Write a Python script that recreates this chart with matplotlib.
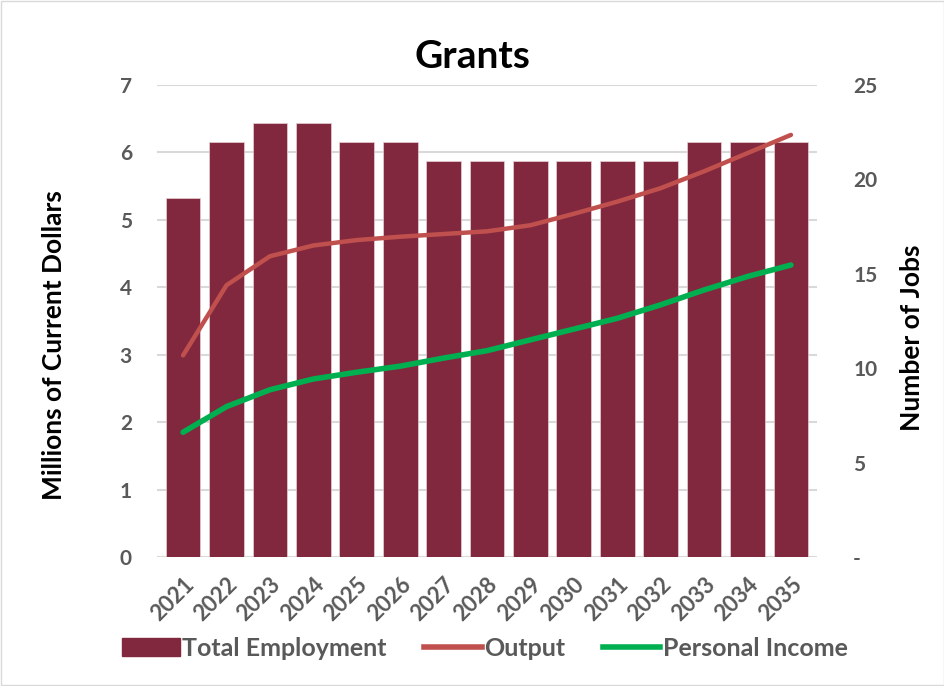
import numpy as np
import matplotlib.pyplot as plt
from matplotlib.patches import Rectangle, Patch
from matplotlib.lines import Line2D

# ── data ─────────────────────────────────────
years = [str(y) for y in range(2021, 2036)]
total_employment = [19, 22, 23, 23, 22, 22, 21, 21, 21, 21, 21, 21, 22, 22, 22]   # jobs (right axis)
output = [2.99, 4.03, 4.46, 4.62, 4.70, 4.75, 4.79, 4.83, 4.92, 5.09, 5.27, 5.47, 5.72, 5.99, 6.26]
personal_income = [1.85, 2.23, 2.48, 2.64, 2.74, 2.83, 2.95, 3.06, 3.22, 3.38, 3.54, 3.74, 3.96, 4.16, 4.33]
left_ticks = [0, 1, 2, 3, 4, 5, 6, 7]
right_ticks = [0, 5, 10, 15, 20, 25]
right_labels = ["-", "5", "10", "15", "20", "25"]

# ── style ────────────────────────────────────
BAR_C = "#82283e"
OUT_C = "#c0504d"
INC_C = "#00b050"
TICK_C = "#595959"
GRID_C = "#d9d9d9"
plt.rcParams['font.family'] = ['Lato', 'DejaVu Sans']

fig = plt.figure(figsize=(9.45, 6.86), dpi=100)
fig.patches.append(Rectangle((0.001, 0.001), 0.998, 0.998, transform=fig.transFigure,
                             fill=False, edgecolor=GRID_C, linewidth=1))

# plot area in pixels: x 157..817, y 85..557
W, H = 945, 686
rect = [157 / W, 1 - 557 / H, (817 - 157) / W, (557 - 85) / H]
ax = fig.add_axes(rect)
x = np.arange(len(years))

# left axis: grid + ticks only
ax.set_ylim(0, 7)
ax.set_yticks(left_ticks)
ax.yaxis.grid(True, color=GRID_C, linewidth=1.5)
ax.set_axisbelow(True)
ax.set_xlim(-0.6, len(years) - 0.4)
ax.set_xticks(x)
ax.set_xticklabels(years, rotation=45, ha='right', rotation_mode='anchor')
for s in ax.spines.values():
    s.set_visible(False)
ax.tick_params(length=0, labelsize=15, labelcolor=TICK_C, pad=18)
ax.tick_params(axis='x', labelsize=16, pad=12)
for lab in ax.get_xticklabels() + ax.get_yticklabels():
    lab.set_fontweight('bold')
ax.set_ylabel("Millions of Current Dollars", fontsize=19, fontweight='bold')
ax.yaxis.set_label_coords(-0.138, 0.449)

# right axis: bars
ax2 = ax.twinx()
ax2.bar(x, total_employment, width=0.8, color=BAR_C, edgecolor='#e8d0d6', linewidth=0.5)
ax2.set_ylim(0, 25)
ax2.set_yticks(right_ticks)
ax2.set_yticklabels(right_labels)
for s in ax2.spines.values():
    s.set_visible(False)
ax2.tick_params(length=0, labelsize=15, labelcolor=TICK_C, pad=26)
for lab in ax2.get_yticklabels():
    lab.set_fontweight('bold')
ax2.set_ylabel("Number of Jobs", fontsize=19, fontweight='bold')
ax2.yaxis.set_label_coords(1.126, 0.464)

# lines on top, left scale
ax3 = ax.twinx()
ax3.set_ylim(0, 7)
ax3.axis('off')
ax3.plot(x, output, color=OUT_C, linewidth=3.2, solid_capstyle='round')
ax3.plot(x, personal_income, color=INC_C, linewidth=4, solid_capstyle='round')

fig.text(0.5, 1 - 57 / H, "Grants", ha='center', va='center', fontsize=28, fontweight='bold')

handles = [Patch(color=BAR_C, label="Total Employment"),
           Line2D([], [], color=OUT_C, linewidth=4, label="Output"),
           Line2D([], [], color=INC_C, linewidth=4, label="Personal Income")]
leg = fig.legend(handles=handles, loc='center', bbox_to_anchor=(0.513, 1 - 648 / H), ncol=3,
                 frameon=False, handlelength=2.3, handletextpad=0.1, columnspacing=1.5,
                 prop={'size': 18, 'weight': 'bold'})
for t in leg.get_texts():
    t.set_color(TICK_C)

fig.savefig("out.png", dpi=100)
